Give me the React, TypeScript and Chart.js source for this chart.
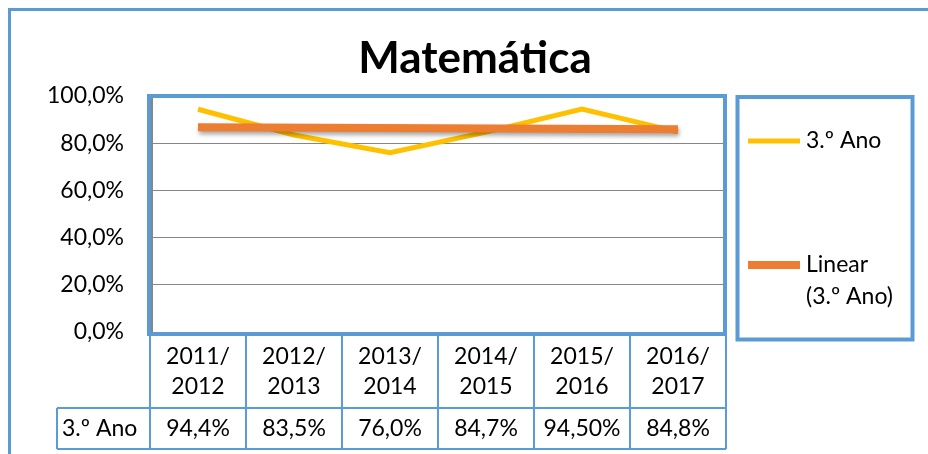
import React, { useEffect, useRef } from 'react';
import { Chart, registerables } from 'chart.js';

Chart.register(...registerables);

const TITLE = 'Matemática';
const categories: string[][] = [
  ['2011/', '2012'],
  ['2012/', '2013'],
  ['2013/', '2014'],
  ['2014/', '2015'],
  ['2015/', '2016'],
  ['2016/', '2017'],
];
const seriesLabel = '3.º Ano';
const seriesValues = [94.4, 83.5, 76.0, 84.7, 94.5, 84.8];
const tableLabels = ['94,4%', '83,5%', '76,0%', '84,7%', '94,50%', '84,8%'];
const trendLabel = ['Linear', '(3.º Ano)'];
const trendValues: (number | null)[] = [86.8, null, null, null, null, 85.9];
const yMin = 0;
const yMax = 100;
const yStep = 20;

const FONT = 'Lato, "Open Sans", sans-serif';
const FS = 23;
const YELLOW = '#FFC000';
const ORANGE = '#ED7D31';
const BLUE = '#5B9BD5';
const GRID = '#868686';

const decor = {
  id: 'decor',
  beforeDatasetDraw(chart: any, args: any) {
    if (args.index === 0) {
      const ctx = chart.ctx;
      ctx.save();
      ctx.shadowColor = 'rgba(0,0,0,0.35)';
      ctx.shadowBlur = 4;
      ctx.shadowOffsetX = 1;
      ctx.shadowOffsetY = 3;
    }
  },
  afterDatasetDraw(chart: any, args: any) {
    if (args.index === 0) chart.ctx.restore();
  },
  afterDraw(chart: any) {
    const ctx = chart.ctx as CanvasRenderingContext2D;
    const ca = chart.chartArea;
    const xs = chart.scales.x;
    ctx.save();

    // outer chart border (cut off at right and bottom)
    ctx.strokeStyle = BLUE;
    ctx.lineWidth = 3;
    ctx.strokeRect(9.5, 9.5, 960, 480);

    // title
    ctx.fillStyle = '#000';
    ctx.font = `bold 44px ${FONT}`;
    ctx.textAlign = 'center';
    ctx.textBaseline = 'middle';
    ctx.fillText(TITLE, 475, 59);

    // data table
    const n = categories.length;
    const colW = xs.getPixelForValue(1) - xs.getPixelForValue(0);
    const rowTop = 408;
    const rowBottom = 449;
    const leftCell = 57;
    ctx.strokeStyle = BLUE;
    ctx.lineWidth = 2;
    ctx.beginPath();
    for (let i = 0; i <= n; i++) {
      const x = xs.getPixelForValue(0) - colW / 2 + i * colW;
      ctx.moveTo(x, ca.bottom);
      ctx.lineTo(x, rowBottom);
    }
    ctx.moveTo(leftCell, rowTop);
    ctx.lineTo(ca.right, rowTop);
    ctx.moveTo(leftCell, rowBottom);
    ctx.lineTo(ca.right, rowBottom);
    ctx.moveTo(leftCell, rowTop);
    ctx.lineTo(leftCell, rowBottom);
    ctx.stroke();

    ctx.fillStyle = '#000';
    ctx.font = `${FS}px ${FONT}`;
    ctx.textBaseline = 'middle';
    ctx.textAlign = 'center';
    const rowMid = (rowTop + rowBottom) / 2;
    tableLabels.forEach((t, i) => {
      ctx.fillText(t, xs.getPixelForValue(i), rowMid);
    });
    ctx.textAlign = 'left';
    ctx.fillText(seriesLabel, 62, rowMid);

    // plot area border
    ctx.strokeStyle = BLUE;
    ctx.lineWidth = 4;
    ctx.strokeRect(ca.left - 1, ca.top, ca.right - ca.left, ca.bottom - ca.top + 2);
    ctx.strokeStyle = GRID;
    ctx.lineWidth = 2;
    ctx.beginPath();
    ctx.moveTo(ca.left + 2, ca.top + 2);
    ctx.lineTo(ca.left + 2, ca.bottom);
    ctx.stroke();

    // legend
    ctx.strokeStyle = BLUE;
    ctx.lineWidth = 4;
    ctx.strokeRect(737.5, 97, 175, 242.5);
    const ds = chart.data.datasets;
    const drawItem = (color: string, lw: number, y: number, lines: string[]) => {
      ctx.strokeStyle = color;
      ctx.lineWidth = lw;
      ctx.beginPath();
      ctx.moveTo(748, y);
      ctx.lineTo(800, y);
      ctx.stroke();
      ctx.fillStyle = '#000';
      ctx.font = `${FS}px ${FONT}`;
      ctx.textAlign = 'left';
      ctx.textBaseline = 'middle';
      lines.forEach((l, k) => ctx.fillText(l, 806, y + k * 32));
    };
    drawItem(ds[1].borderColor, 5, 141, [ds[1].label]);
    drawItem(ds[0].borderColor, 8, 265, trendLabel);

    ctx.restore();
  },
};

export default function App() {
  const ref = useRef<HTMLCanvasElement>(null);
  useEffect(() => {
    if (!ref.current) return;
    const chart = new Chart(ref.current, {
      type: 'line',
      data: {
        labels: categories,
        datasets: [
          {
            label: trendLabel.join(' '),
            data: trendValues,
            borderColor: ORANGE,
            borderWidth: 8,
            pointRadius: 0,
            spanGaps: true,
            tension: 0,
            order: 0,
          },
          {
            label: seriesLabel,
            data: seriesValues,
            borderColor: YELLOW,
            borderWidth: 5,
            pointRadius: 0,
            tension: 0,
            order: 1,
          },
        ],
      },
      options: {
        responsive: false,
        animation: false,
        devicePixelRatio: 1,
        layout: { padding: { left: 0, right: 202, top: 96, bottom: 0 } },
        plugins: {
          legend: { display: false },
          title: { display: false },
          tooltip: { enabled: false },
        },
        scales: {
          x: {
            offset: true,
            grid: { display: false, drawTicks: false },
            border: { display: false },
            ticks: {
              color: '#000',
              font: { family: FONT, size: FS, lineHeight: 30 / FS },
              padding: 10,
              maxRotation: 0,
              autoSkip: false,
            },
            afterFit: (s: any) => {
              s.height = 122;
            },
          },
          y: {
            min: yMin,
            max: yMax,
            grid: { color: GRID, lineWidth: 1, drawTicks: false },
            border: { display: false },
            ticks: {
              stepSize: yStep,
              color: '#000',
              font: { family: FONT, size: FS },
              padding: 26,
              callback: (v: any) => Number(v).toFixed(1).replace('.', ',') + '%',
            },
            afterFit: (s: any) => {
              s.width = 150;
            },
          },
        },
      },
      plugins: [decor],
    });
    return () => chart.destroy();
  }, []);
  return (
    <div style={{ position: 'fixed', left: 0, top: 0, width: 928, height: 454, background: '#fff' }}>
      <canvas ref={ref} width={928} height={454} style={{ display: 'block' }} />
    </div>
  );
}
